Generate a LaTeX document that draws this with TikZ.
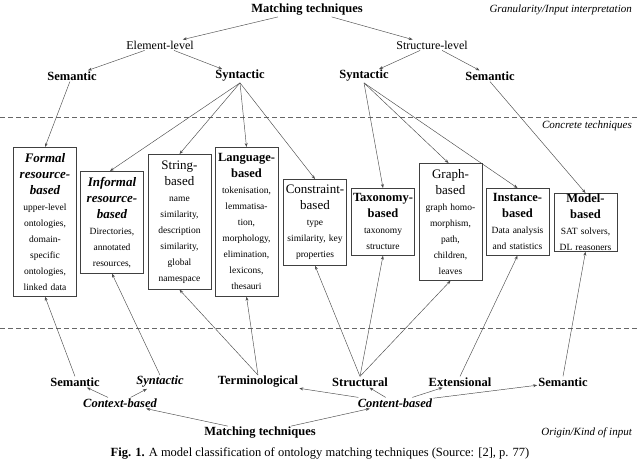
\documentclass[tikz,border=0pt]{standalone}
\usepackage{fontspec}
\setmainfont{Liberation Serif}
\usetikzlibrary{arrows.meta}
\begin{document}
\begin{tikzpicture}[x=1pt,y=-1pt,
  lbl/.style={font=\fontsize{12.5}{14}\selectfont\bfseries, inner sep=1pt},
  plain/.style={font=\fontsize{12}{14}\selectfont, inner sep=1pt},
  note/.style={font=\fontsize{11}{13}\selectfont\itshape, anchor=east, inner sep=0pt},
  box/.style={draw=black!75, line width=0.7pt, anchor=north, align=center, text width=62pt,
     inner sep=0.5pt, font=\fontsize{9.5}{16}\selectfont},
  ar/.style={draw=black!70, line width=0.45pt, -{Stealth[length=4pt,width=3pt]}},
  sep/.style={draw=black!60, line width=0.7pt, dash pattern=on 5pt off 3pt}]
\useasboundingbox (0,0) rectangle (640,463);
\newcommand{\tb}[1]{{\fontsize{12.5}{16}\selectfont\bfseries #1}}
\newcommand{\ti}[1]{{\fontsize{13}{16}\selectfont\bfseries\itshape #1}}
\newcommand{\tn}[1]{{\fontsize{13}{16}\selectfont #1}}
% top part
\node[lbl] (mt) at (307,10) {Matching techniques};
\node[note] (gi) at (632,10) {Granularity/Input interpretation};
\node[plain] (el) at (160,45) {Element-level};
\node[plain] (sl) at (432,45) {Structure-level};
\node[lbl] (sem1) at (72,76) {Semantic};
\node[lbl] (syn1) at (240,76) {Syntactic};
\node[lbl] (syn2) at (364,76) {Syntactic};
\node[lbl] (sem2) at (490,76) {Semantic};
\draw[ar] (mt) -- (el); \draw[ar] (mt) -- (sl);
\draw[ar] (el) -- (sem1); \draw[ar] (el) -- (syn1);
\draw[ar] (sl) -- (syn2); \draw[ar] (sl) -- (sem2);
\coordinate (d1a) at (0,117); \coordinate (d1b) at (640,117);
\draw[sep] (d1a) -- (d1b);
\node[note] (ct) at (632,126) {Concrete techniques};
% boxes
\node[box, minimum height=149pt] (formal) at (45,147) {\ti{Formal\\\mbox{resource-}\\based}\\upper-level\\ontologies,\\domain-\\specific\\ontologies,\\linked data};
\node[box, minimum height=102pt] (inf) at (112,171) {\ti{Informal\\\mbox{resource-}\\based}\\Directories,\\annotated\\resources,};
\node[box, minimum height=135pt] (str) at (179.5,154) {\tn{\mbox{String-}\\based}\\name\\similarity,\\description\\similarity,\\global\\namespace};
\node[box, minimum height=149pt] (lang) at (246.5,147) {\tb{\mbox{Language-}\\based}\\tokenisation,\\lemmatisa-\\tion,\\morphology,\\elimination,\\lexicons,\\thesauri};
\node[box, minimum height=86pt] (cons) at (315,179) {\tn{\mbox{Constraint-}\\based}\\type\\similarity, key\\properties};
\node[box, minimum height=67pt] (tax) at (383,188) {\tb{\mbox{Taxonomy-}\\based}\\taxonomy\\structure};
\node[box, minimum height=117pt] (graph) at (450.5,163) {\tn{\mbox{Graph-}\\based}\\graph homo-\\morphism,\\path,\\children,\\leaves};
\node[box, minimum height=67pt] (inst) at (517.5,188) {\tb{\mbox{Instance-}\\based}\\Data analysis\\and statistics};
\node[box, minimum height=58pt] (model) at (585.5,193) {\tb{\mbox{Model-}\\based}\\SAT solvers,\\DL reasoners};
% top arrows to boxes
\draw[ar] (sem1) -- (formal.north);
\draw[ar] (syn1.south) -- ([xshift=-2pt]inf.north);
\draw[ar] (syn1.south) -- (str.north);
\draw[ar] (syn1.south) -- (lang.north);
\draw[ar] (syn1.south) -- (cons.north);
\draw[ar] (syn2.south) -- (tax.north);
\draw[ar] (syn2.south) -- ([xshift=-2pt]graph.north);
\draw[ar] (syn2.south) -- (inst.north);
\draw[ar] (sem2.south) -- (model.north);
% lower part
\coordinate (d2a) at (0,328); \coordinate (d2b) at (640,328);
\draw[sep] (d2a) -- (d2b);
\node[lbl] (bsem1) at (75,382) {Semantic};
\node[lbl, font=\fontsize{12.5}{14}\selectfont\bfseries\itshape] (bsyn) at (160,382) {Syntactic};
\node[lbl] (term) at (258,382) {Terminological};
\node[lbl] (struc) at (360,382) {Structural};
\node[lbl] (ext) at (460,382) {Extensional};
\node[lbl] (bsem2) at (563,382) {Semantic};
\node[lbl, font=\fontsize{12.5}{14}\selectfont\bfseries\itshape] (ctx) at (120,403) {Context-based};
\node[lbl, font=\fontsize{12.5}{14}\selectfont\bfseries\itshape] (cnt) at (395,403) {Content-based};
\node[lbl] (mt2) at (260,433) {Matching techniques};
\node[note] (ok) at (632,433) {Origin/Kind of input};
\node[font=\fontsize{12.5}{14}\selectfont, inner sep=0pt] (cap) at (320,453) {\textbf{Fig. 1.} A model classification of ontology matching techniques (Source: [2], p. 77)};
\draw[ar] (mt2) -- (ctx); \draw[ar] (mt2) -- (cnt);
\draw[ar] (ctx) -- (bsem1); \draw[ar] (ctx) -- (bsyn);
\draw[ar] (cnt) -- (term); \draw[ar] (cnt) -- (struc);
\draw[ar] (cnt) -- (ext); \draw[ar] (cnt) -- (bsem2);
% bottom arrows to boxes
\draw[ar] (bsem1.north) -- (formal.south);
\draw[ar] (bsyn.north) -- (inf.south);
\draw[ar] (term.north) -- (str.south);
\draw[ar] (term.north) -- (lang.south);
\draw[ar] (struc.north) -- (cons.south);
\draw[ar] (struc.north) -- (tax.south);
\draw[ar] (struc.north) -- (graph.south);
\draw[ar] (ext.north) -- (inst.south);
\draw[ar] (bsem2.north) -- (model.south);
\end{tikzpicture}
\end{document}
